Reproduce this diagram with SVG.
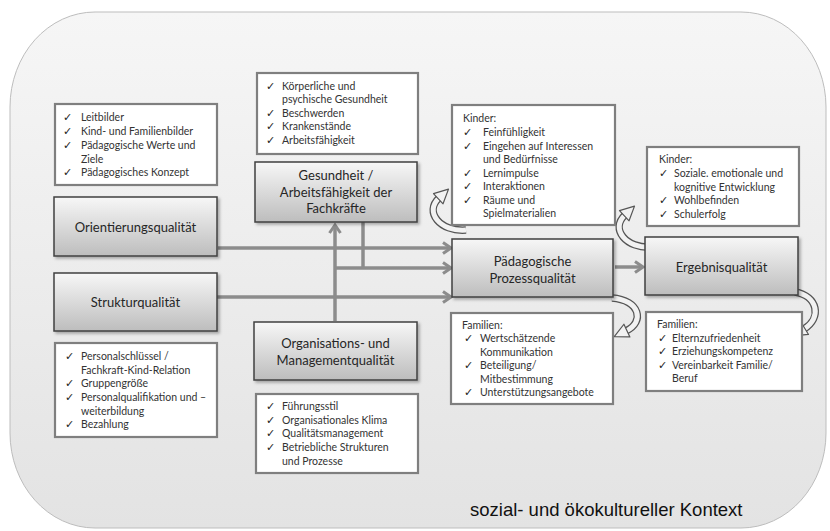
<svg xmlns="http://www.w3.org/2000/svg" width="830" height="531" viewBox="0 0 830 531">
  <defs>
    <linearGradient id="bgGrad" x1="0" y1="0" x2="0" y2="1">
      <stop offset="0" stop-color="#f6f6f6"/>
      <stop offset="1" stop-color="#e3e3e3"/>
    </linearGradient>
    <linearGradient id="nodeGrad" x1="0" y1="0" x2="0" y2="1">
      <stop offset="0" stop-color="#f7f7f7"/>
      <stop offset="1" stop-color="#bdbdbd"/>
    </linearGradient>
    <filter id="shadow" x="-10%" y="-10%" width="130%" height="140%">
      <feDropShadow dx="2" dy="2" stdDeviation="1.5" flood-color="#000" flood-opacity="0.3"/>
    </filter>
    <marker id="chev" viewBox="0 0 12 14" refX="10" refY="7" markerWidth="12" markerHeight="14" markerUnits="userSpaceOnUse" orient="auto">
      <polyline points="2,1.5 10,7 2,12.5" fill="none" stroke="#8c8c8c" stroke-width="3"/>
    </marker>
    <marker id="blockHead" viewBox="-1 -9 17 18" refX="1" refY="0" markerWidth="17" markerHeight="18" markerUnits="userSpaceOnUse" orient="auto">
      <polygon points="0,-7 14,0 0,7" fill="#f2f2f2" stroke="#555" stroke-width="1.2" stroke-linejoin="round"/>
    </marker>
    <style>
      .node rect { fill: url(#nodeGrad); stroke: #404040; stroke-width: 1.5; filter: url(#shadow); }
      .node text { font-family: Lato, "Open Sans", sans-serif; font-size: 13px; fill: #262626; text-anchor: middle; }
      .list rect { fill: #ffffff; stroke: #7f7f7f; stroke-width: 2.2; }
      .list text { font-family: Lato, "Open Sans", sans-serif; font-size: 10.5px; fill: #333333; }
      .list .ck { font-family: "DejaVu Sans", sans-serif; font-size: 11px; fill: #222222; }
      .conn { fill: none; stroke: #8c8c8c; stroke-width: 3.5; }
      .curveOuter { fill: none; stroke: #555; stroke-width: 7.5; stroke-linecap: butt; }
      .curveInner { fill: none; stroke: #f2f2f2; stroke-width: 5; stroke-linecap: butt; }
      .ctx { font-family: "Liberation Sans", Arial, sans-serif; font-size: 18.5px; fill: #111; }
    </style>
  </defs>

  <!-- context background -->
  <rect x="10" y="12" width="816" height="516" rx="85" ry="95" fill="url(#bgGrad)" stroke="#bdbdbd" stroke-width="1"/>

  <!-- connectors -->
  <g id="connectors">
    <path class="conn" d="M218,248 H451" marker-end="url(#chev)"/>
    <path class="conn" d="M217,297 H451" marker-end="url(#chev)"/>
    <path class="conn" d="M335,321 V225" marker-end="url(#chev)"/>
    <path class="conn" d="M363,222 V268"/>
    <path class="conn" d="M335,268 H451" marker-end="url(#chev)"/>
    <path class="conn" d="M615,267 H643" marker-end="url(#chev)"/>

    <!-- curved block arrows -->
    <path class="curveOuter" d="M466,230 C440,232 424,212 439,198"/>
    <path class="curveInner" d="M466,230 C440,232 424,212 439,198" marker-end="url(#blockHead)"/>
    <path class="curveOuter" d="M652,247 C626,249 610,229 625,215"/>
    <path class="curveInner" d="M652,247 C626,249 610,229 625,215" marker-end="url(#blockHead)"/>
    <path class="curveOuter" d="M612,298 C640,300 645,322 626,331"/>
    <path class="curveInner" d="M612,298 C640,300 645,322 626,331" marker-end="url(#blockHead)"/>
    <path class="curveOuter" d="M795,292 C818,296 822,318 804,329"/>
    <path class="curveInner" d="M795,292 C818,296 822,318 804,329" marker-end="url(#blockHead)"/>
  </g>

  <!-- lists -->
  <g id="list-orientierung" class="list">
    <rect x="55" y="104" width="162" height="81"/>
    <text class="ck" x="63" y="121">✓</text><text x="81" y="121">Leitbilder</text>
    <text class="ck" x="63" y="135">✓</text><text x="81" y="135">Kind- und Familienbilder</text>
    <text class="ck" x="63" y="149">✓</text><text x="81" y="149">Pädagogische Werte und</text>
    <text x="81" y="163">Ziele</text>
    <text class="ck" x="63" y="176">✓</text><text x="81" y="176">Pädagogisches Konzept</text>
  </g>

  <g id="list-gesundheit" class="list">
    <rect x="257" y="73" width="161" height="81"/>
    <text class="ck" x="266" y="90">✓</text><text x="282" y="90">Körperliche und</text>
    <text x="282" y="103">psychische Gesundheit</text>
    <text class="ck" x="266" y="117">✓</text><text x="282" y="117">Beschwerden</text>
    <text class="ck" x="266" y="130">✓</text><text x="282" y="130">Krankenstände</text>
    <text class="ck" x="266" y="144">✓</text><text x="282" y="144">Arbeitsfähigkeit</text>
  </g>

  <g id="list-prozess-kinder" class="list">
    <rect x="452" y="105" width="163" height="120"/>
    <text x="463" y="122">Kinder:</text>
    <text class="ck" x="463" y="136">✓</text><text x="483" y="136">Feinfühligkeit</text>
    <text class="ck" x="463" y="150">✓</text><text x="483" y="150">Eingehen auf Interessen</text>
    <text x="483" y="163">und Bedürfnisse</text>
    <text class="ck" x="463" y="177">✓</text><text x="483" y="177">Lernimpulse</text>
    <text class="ck" x="463" y="190">✓</text><text x="483" y="190">Interaktionen</text>
    <text class="ck" x="463" y="204">✓</text><text x="483" y="204">Räume und</text>
    <text x="483" y="217">Spielmaterialien</text>
  </g>

  <g id="list-ergebnis-kinder" class="list">
    <rect x="647" y="147" width="152" height="79"/>
    <text x="659" y="163">Kinder:</text>
    <text class="ck" x="659" y="177">✓</text><text x="674" y="177">Soziale. emotionale und</text>
    <text x="674" y="191">kognitive Entwicklung</text>
    <text class="ck" x="659" y="204">✓</text><text x="674" y="204">Wohlbefinden</text>
    <text class="ck" x="659" y="218">✓</text><text x="674" y="218">Schulerfolg</text>
  </g>

  <g id="list-struktur" class="list">
    <rect x="55" y="343" width="162" height="94"/>
    <text class="ck" x="65" y="360">✓</text><text x="81" y="360">Personalschlüssel /</text>
    <text x="81" y="374">Fachkraft-Kind-Relation</text>
    <text class="ck" x="65" y="387">✓</text><text x="81" y="387">Gruppengröße</text>
    <text class="ck" x="65" y="401">✓</text><text x="81" y="401">Personalqualifikation und –</text>
    <text x="81" y="415">weiterbildung</text>
    <text class="ck" x="65" y="428">✓</text><text x="81" y="428">Bezahlung</text>
  </g>

  <g id="list-organisation" class="list">
    <rect x="256" y="394" width="162" height="79"/>
    <text class="ck" x="266" y="410">✓</text><text x="282" y="410">Führungsstil</text>
    <text class="ck" x="266" y="424">✓</text><text x="282" y="424">Organisationales Klima</text>
    <text class="ck" x="266" y="437">✓</text><text x="282" y="437">Qualitätsmanagement</text>
    <text class="ck" x="266" y="451">✓</text><text x="282" y="451">Betriebliche Strukturen</text>
    <text x="282" y="465">und Prozesse</text>
  </g>

  <g id="list-prozess-familien" class="list">
    <rect x="451" y="313" width="162" height="91"/>
    <text x="462" y="329">Familien:</text>
    <text class="ck" x="464" y="342">✓</text><text x="480" y="342">Wertschätzende</text>
    <text x="480" y="356">Kommunikation</text>
    <text class="ck" x="464" y="369">✓</text><text x="480" y="369">Beteiligung/</text>
    <text x="480" y="383">Mitbestimmung</text>
    <text class="ck" x="464" y="396">✓</text><text x="480" y="396">Unterstützungsangebote</text>
  </g>

  <g id="list-ergebnis-familien" class="list">
    <rect x="646" y="312" width="156" height="79"/>
    <text x="657" y="328">Familien:</text>
    <text class="ck" x="658" y="342">✓</text><text x="672" y="342">Elternzufriedenheit</text>
    <text class="ck" x="658" y="355">✓</text><text x="672" y="355">Erziehungskompetenz</text>
    <text class="ck" x="658" y="369">✓</text><text x="672" y="369">Vereinbarkeit Familie/</text>
    <text x="672" y="382">Beruf</text>
  </g>

  <!-- quality nodes -->
  <g id="node-gesundheit" class="node">
    <rect x="255" y="162" width="162" height="60"/>
    <text x="336" y="180">Gesundheit /</text>
    <text x="336" y="197">Arbeitsfähigkeit der</text>
    <text x="336" y="213">Fachkräfte</text>
  </g>
  <g id="node-orientierung" class="node">
    <rect x="54" y="197" width="163" height="59"/>
    <text x="135.5" y="232">Orientierungsqualität</text>
  </g>
  <g id="node-struktur" class="node">
    <rect x="54" y="273" width="163" height="58"/>
    <text x="135.5" y="307">Strukturqualität</text>
  </g>
  <g id="node-prozess" class="node">
    <rect x="452" y="239" width="161" height="58"/>
    <text x="532.5" y="266">Pädagogische</text>
    <text x="532.5" y="283">Prozessqualität</text>
  </g>
  <g id="node-ergebnis" class="node">
    <rect x="645" y="237" width="153" height="58"/>
    <text x="721.5" y="272">Ergebnisqualität</text>
  </g>
  <g id="node-organisation" class="node">
    <rect x="254" y="322" width="163" height="58"/>
    <text x="335.5" y="348">Organisations- und</text>
    <text x="335.5" y="365">Managementqualität</text>
  </g>

  <text class="ctx" x="470" y="516">sozial- und ökokultureller Kontext</text>
</svg>
